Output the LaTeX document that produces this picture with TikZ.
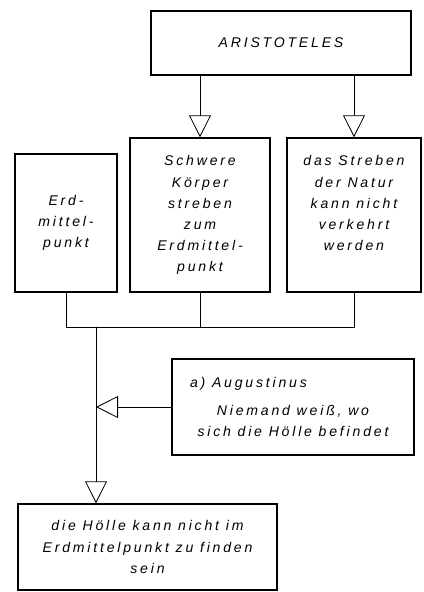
\documentclass[tikz,border=0pt]{standalone}
\usepackage{fontspec}
\usepackage{tikz}
\usetikzlibrary{arrows.meta}
\newfontfamily\schrift[LetterSpace=20]{Liberation Sans}

\begin{document}
\begin{tikzpicture}[>={Triangle[open,length=5.5mm,width=5.5mm]},font=\schrift\itshape\fontsize{10}{15}\selectfont,line cap=round,
  kasten/.style={draw,line width=1pt,align=center,inner sep=2pt},
  pfeil/.style={line width=0.6pt}]
\useasboundingbox (0,0) rectangle (10.6,14.8);
\node[kasten,minimum width=6.5cm,minimum height=1.6cm] (aristo) at (7.025,13.725) {ARISTOTELES};
\node[kasten,minimum width=2.55cm,minimum height=3.45cm] (erd) at (1.65,9.225) {Erd-\\mittel-\\punkt};
\node[kasten,minimum width=3.5cm,minimum height=3.85cm] (schwer) at (5.0,9.425) {Schwere\\Körper\\streben\\zum\\Erdmittel-\\punkt};
\node[kasten,minimum width=3.35cm,minimum height=3.85cm] (natur) at (8.85,9.425) {das Streben\\der Natur\\kann nicht\\verkehrt\\werden\\[2pt]\mbox{}};
\node[kasten,minimum width=6.05cm,minimum height=2.4cm] (augustin) at (7.325,4.625) {\parbox{5.15cm}{a)~Augustinus\par\vspace{5pt}\centering Niemand weiß, wo\\sich die Hölle befindet}};
\node[kasten,minimum width=6.475cm,minimum height=2.15cm] (hoelle) at (3.6875,1.125) {die Hölle kann nicht im\\Erdmittelpunkt zu finden\\sein};
\coordinate (sammel) at (2.4,6.625);
\draw[pfeil,->] (schwer.north |- aristo.south) -- (schwer.north);
\draw[pfeil,->] (natur.north |- aristo.south) -- (natur.north);
\draw[pfeil] (erd.south) |- (natur.south |- sammel) -- (natur.south);
\draw[pfeil] (schwer.south) -- (schwer.south |- sammel);
\draw[pfeil,->] (sammel) -- (sammel |- hoelle.north);
\draw[pfeil,->] (augustin.west) -- (augustin.west -| sammel);
\end{tikzpicture}
\end{document}
